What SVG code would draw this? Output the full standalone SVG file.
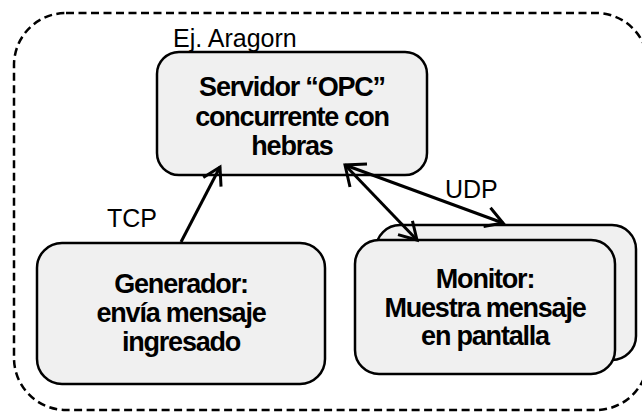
<svg xmlns="http://www.w3.org/2000/svg" width="642" height="413" viewBox="0 0 642 413">
<style>
.box{fill:#f0f0f0;stroke:#000;stroke-width:2.5}
.bold{font-family:"Liberation Sans",Arial,sans-serif;font-weight:bold;font-size:27px;letter-spacing:-1.2px;text-anchor:middle;fill:#000}
.lbl{font-family:"Liberation Sans",Arial,sans-serif;font-size:25px;fill:#000}
.conn{fill:none;stroke:#000;stroke-width:3}
</style>
<defs>
<marker id="arr" markerUnits="userSpaceOnUse" viewBox="-20 -12 24 24" refX="0" refY="0" markerWidth="24" markerHeight="24" orient="auto" overflow="visible">
<path d="M-17,-10 L0,0 L-17,10" fill="none" stroke="#000" stroke-width="3" stroke-linejoin="miter"/>
</marker>
</defs>
<rect id="boundary" x="14" y="13" width="634" height="397" rx="52" ry="52" fill="none" stroke="#000" stroke-width="2.5" stroke-dasharray="8,4.5"/>
<text class="lbl" x="173" y="47">Ej. Aragorn</text>
<g id="server">
<rect class="box" x="157" y="52" width="270" height="123" rx="22" ry="22"/>
<text class="bold" x="292" y="96">Servidor “OPC”</text>
<text class="bold" x="292" y="126">concurrente con</text>
<text class="bold" x="292" y="155">hebras</text>
</g>
<g id="generador">
<rect class="box" x="37" y="243" width="288" height="141" rx="25" ry="25"/>
<text class="bold" x="181" y="293">Generador:</text>
<text class="bold" x="181" y="322">envía mensaje</text>
<text class="bold" x="181" y="351">ingresado</text>
</g>
<g id="monitor">
<rect class="box" x="376" y="225" width="260" height="135" rx="24" ry="24"/>
<rect class="box" x="355" y="240" width="260" height="134" rx="24" ry="24"/>
<text class="bold" x="485" y="288">Monitor:</text>
<text class="bold" x="485" y="317">Muestra mensaje</text>
<text class="bold" x="485" y="345">en pantalla</text>
</g>
<g id="connectors">
<line class="conn" x1="181" y1="242" x2="220" y2="167" marker-end="url(#arr)"/>
<line class="conn" x1="345" y1="165" x2="417" y2="240" marker-end="url(#arr)"/>
<line class="conn" x1="345" y1="165" x2="503" y2="223" marker-end="url(#arr)"/>
<path class="conn" d="M367,164 L345,165 L350,187"/>
<text class="lbl" x="107" y="227">TCP</text>
<text class="lbl" x="445" y="198">UDP</text>
</g>
</svg>
